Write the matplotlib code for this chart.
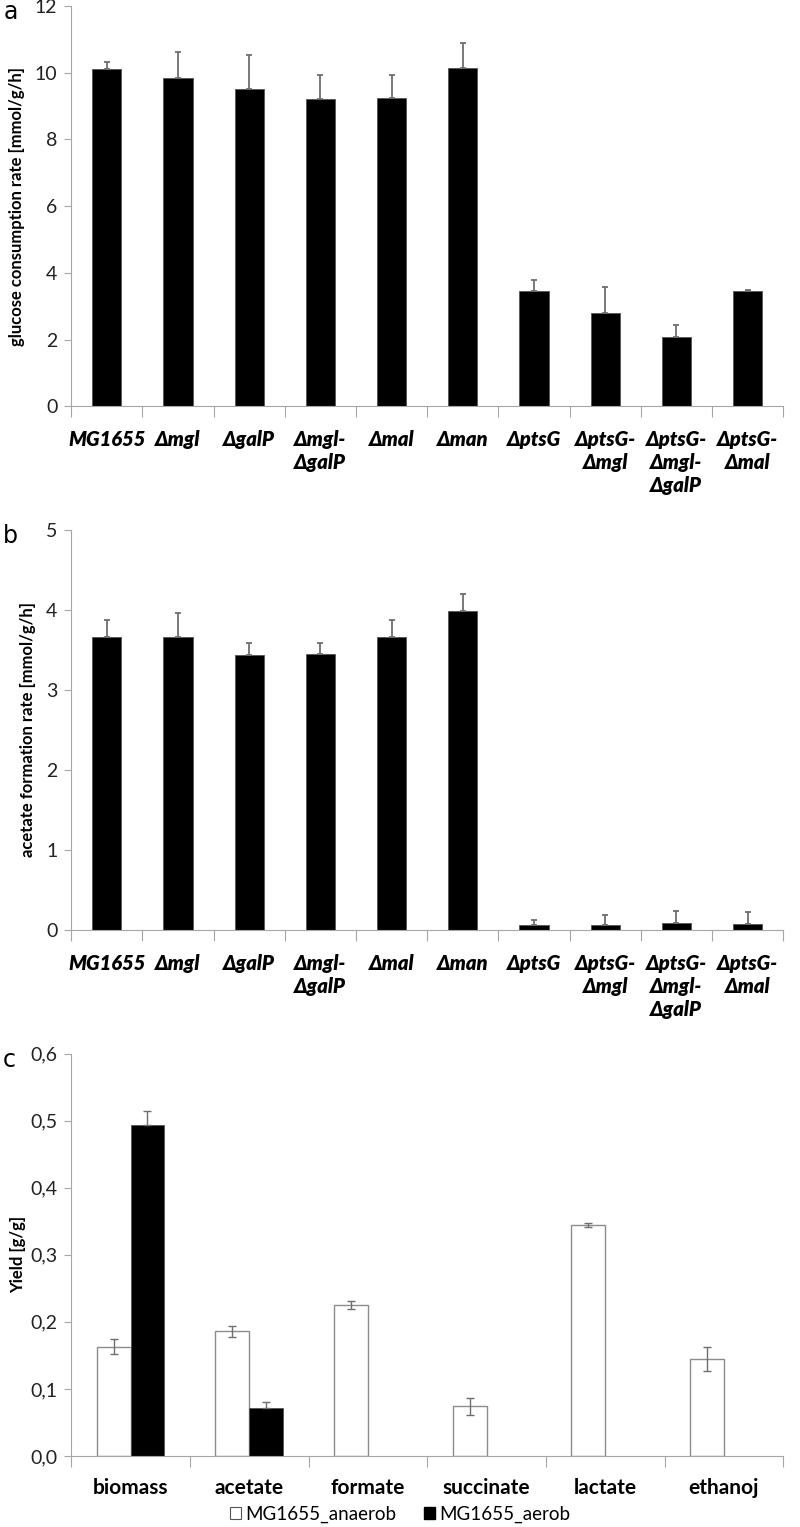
import numpy as np
import matplotlib
matplotlib.use('Agg')
import matplotlib.pyplot as plt
from matplotlib.patches import Patch

plt.rcParams['font.family'] = ['Lato', 'DejaVu Sans']

strains = ['MG1655', 'Δmgl', 'ΔgalP', 'Δmgl-\nΔgalP', 'Δmal', 'Δman', 'ΔptsG',
           'ΔptsG-\nΔmgl', 'ΔptsG-\nΔmgl-\nΔgalP', 'ΔptsG-\nΔmal']
glucose = [10.12, 9.85, 9.5, 9.22, 9.23, 10.13, 3.44, 2.78, 2.08, 3.44]
glucose_err = [0.2, 0.77, 1.02, 0.72, 0.71, 0.75, 0.34, 0.78, 0.35, 0.05]
acetate = [3.66, 3.66, 3.44, 3.45, 3.66, 3.98, 0.06, 0.06, 0.09, 0.08]
acetate_err = [0.21, 0.30, 0.14, 0.13, 0.21, 0.22, 0.07, 0.13, 0.15, 0.15]

products = ['biomass', 'acetate', 'formate', 'succinate', 'lactate', 'ethanoj']
anaerob = [0.163, 0.186, 0.225, 0.074, 0.344, 0.144]
anaerob_err = [0.011, 0.008, 0.006, 0.013, 0.003, 0.018]
aerob = [0.494, 0.072, 0, 0, 0, 0]
aerob_err = [0.021, 0.008, 0, 0, 0, 0]

grey = '#a6a6a6'
errc = '#6e6e6e'

fig = plt.figure(figsize=(8, 15.27), dpi=100)


def style(ax, n, pad):
    for s in ['top', 'right']:
        ax.spines[s].set_visible(False)
    for s in ['left', 'bottom']:
        ax.spines[s].set_color(grey)
    ax.set_xlim(-0.5, n - 0.5)
    ax.set_xticks(np.arange(-0.5, n, 1.0))
    ax.set_xticklabels([])
    ax.set_xticks(np.arange(n), minor=True)
    ax.tick_params(axis='x', which='major', length=8, color=grey, direction='out')
    ax.tick_params(axis='x', which='minor', length=0, pad=pad)
    ax.tick_params(axis='y', length=5, color=grey, labelsize=14, pad=5,
                   labelcolor='#222222')


def strain_panel(rect, vals, errs, ymax, step, ylabel, letter):
    ax = fig.add_axes(rect)
    x = np.arange(len(strains))
    ax.bar(x, vals, 0.41, color='black', edgecolor='#555555', linewidth=0.6)
    ax.errorbar(x, vals, yerr=[np.zeros(len(vals)), errs], fmt='none',
                ecolor=errc, elinewidth=1.3, capsize=2.5, capthick=1.3)
    style(ax, len(strains), 17)
    ax.set_ylim(0, ymax)
    ax.set_yticks(np.arange(0, ymax + 0.01, step))
    ax.set_xticklabels(strains, minor=True, fontsize=14.5, fontweight='heavy',
                       fontstyle='italic', va='top', linespacing=1.25)
    ax.set_ylabel(ylabel, fontsize=12, fontweight='bold', labelpad=7)
    fig.text(0.004, rect[1] + rect[3] + 0.004, letter, fontsize=17,
             family='DejaVu Sans', va='top', ha='left')
    return ax


strain_panel([0.089, 0.734, 0.89, 0.262], glucose, glucose_err, 12, 2,
             'glucose consumption rate [mmol/g/h]', 'a')
strain_panel([0.089, 0.391, 0.89, 0.262], acetate, acetate_err, 5, 1,
             'acetate formation rate [mmol/g/h]', 'b')

ax = fig.add_axes([0.089, 0.0465, 0.89, 0.2635])
x = np.arange(len(products))
w = 0.285
ax.bar(x - w / 2, anaerob, w, color='white', edgecolor='#8c8c8c', linewidth=1.0)
ax.errorbar(x - w / 2, anaerob, yerr=anaerob_err, fmt='none', ecolor=errc,
            elinewidth=1.0, capsize=3, capthick=1.0)
ax.bar(x[:2] + w / 2, aerob[:2], w, color='black', edgecolor='#555555', linewidth=0.6)
ax.errorbar(x[:2] + w / 2, aerob[:2], yerr=[np.zeros(2), aerob_err[:2]], fmt='none',
            ecolor=errc, elinewidth=1.0, capsize=3, capthick=1.0)
style(ax, len(products), 16)
ax.set_ylim(0, 0.6)
ax.set_yticks(np.arange(0, 0.61, 0.1))
ax.set_yticklabels([f'{v:.1f}'.replace('.', ',') for v in np.arange(0, 0.61, 0.1)])
ax.set_xticklabels(products, minor=True, fontsize=15, fontweight='bold')
ax.set_ylabel('Yield [g/g]', fontsize=12, fontweight='bold', labelpad=3)
fig.text(0.004, 0.0465 + 0.2635 + 0.004, 'c', fontsize=17, family='DejaVu Sans',
         va='top', ha='left')

handles = [Patch(facecolor='white', edgecolor='#555555', linewidth=0.8),
           Patch(facecolor='black', edgecolor='black')]
fig.legend(handles, ['MG1655_anaerob', 'MG1655_aerob'], loc='center',
           bbox_to_anchor=(0.5, 0.0085), ncol=2, frameon=False, fontsize=13.5,
           handlelength=0.6, handleheight=0.6, handletextpad=0.2, columnspacing=1.5,
           borderpad=0.1)

fig.savefig('out.png', dpi=100)
